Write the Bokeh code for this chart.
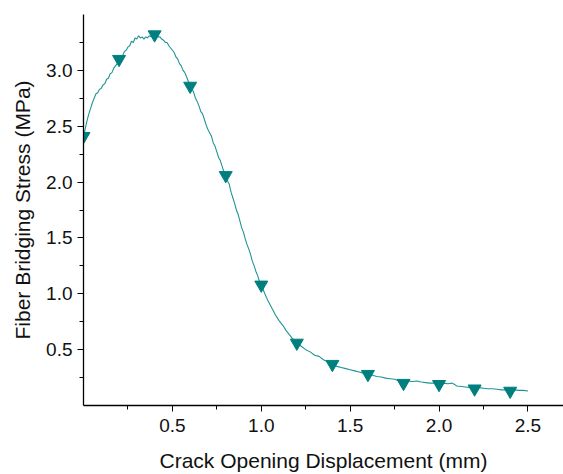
from bokeh.plotting import figure
from bokeh.models import FixedTicker, Range1d, CustomJSTickFormatter
from bokeh.embed import file_html
from bokeh.resources import INLINE

# curve (crack opening displacement mm, bridging stress MPa)
cod = [0.00, 0.01, 0.02, 0.03, 0.04, 0.05, 0.06, 0.07, 0.08, 0.09, 0.10, 0.11, 0.12, 0.13, 0.14,
       0.15, 0.16, 0.17, 0.18, 0.19, 0.20, 0.21, 0.22, 0.23, 0.24, 0.25, 0.26, 0.27, 0.28, 0.29,
       0.30, 0.31, 0.32, 0.33, 0.34, 0.35, 0.36, 0.37, 0.38, 0.39, 0.40, 0.41, 0.42, 0.43, 0.44,
       0.45, 0.46, 0.47, 0.48, 0.49, 0.50, 0.51, 0.52, 0.53, 0.54, 0.55, 0.56, 0.57, 0.58, 0.59,
       0.60, 0.61, 0.62, 0.63, 0.64, 0.65, 0.66, 0.67, 0.68, 0.69, 0.70, 0.71, 0.72, 0.73, 0.74,
       0.75, 0.76, 0.77, 0.78, 0.79, 0.80, 0.81, 0.82, 0.83, 0.84, 0.85, 0.86, 0.87, 0.88, 0.89,
       0.90, 0.91, 0.92, 0.93, 0.94, 0.95, 0.96, 0.97, 0.98, 0.99,
       1.00, 1.02, 1.04, 1.06, 1.08, 1.10, 1.12, 1.14, 1.16, 1.18, 1.20, 1.225, 1.25, 1.275, 1.30,
       1.325, 1.35, 1.375, 1.40, 1.425, 1.45, 1.475, 1.50, 1.525, 1.55, 1.575, 1.60, 1.625, 1.65,
       1.675, 1.70, 1.725, 1.75, 1.775, 1.80, 1.825, 1.85, 1.875, 1.90, 1.925, 1.95, 1.975, 2.00,
       2.025, 2.05, 2.075, 2.10, 2.125, 2.15, 2.175, 2.20, 2.225, 2.25, 2.275, 2.30, 2.325, 2.35,
       2.375, 2.40, 2.425, 2.45, 2.475, 2.50]
stress = [2.40, 2.48, 2.55, 2.61, 2.66, 2.71, 2.75, 2.79, 2.80, 2.83, 2.84, 2.87, 2.88, 2.92, 2.93,
          2.97, 2.98, 3.02, 3.04, 3.06, 3.09, 3.12, 3.13, 3.17, 3.18, 3.21, 3.22, 3.26, 3.25, 3.29,
          3.28, 3.31, 3.29, 3.30, 3.28, 3.30, 3.29, 3.31, 3.30, 3.32, 3.32, 3.31, 3.30, 3.30, 3.28,
          3.27, 3.25, 3.25, 3.22, 3.20, 3.18, 3.16, 3.12, 3.10, 3.06, 3.04, 3.00, 2.98, 2.94, 2.90,
          2.87, 2.84, 2.80, 2.75, 2.72, 2.68, 2.63, 2.61, 2.56, 2.51, 2.47, 2.44, 2.41, 2.35, 2.32,
          2.27, 2.22, 2.19, 2.14, 2.09, 2.06, 2.01, 1.98, 1.91, 1.86, 1.81, 1.75, 1.71, 1.65, 1.59,
          1.55, 1.49, 1.44, 1.40, 1.35, 1.29, 1.25, 1.20, 1.16, 1.11,
          1.08, 1.00, 0.93, 0.87, 0.81, 0.76, 0.72, 0.67, 0.63, 0.59, 0.56, 0.53, 0.50, 0.48, 0.45,
          0.44, 0.41, 0.39, 0.37, 0.35, 0.34, 0.33, 0.32, 0.31, 0.30, 0.29, 0.28, 0.27, 0.26,
          0.255, 0.245, 0.24, 0.235, 0.22, 0.21, 0.22, 0.215, 0.22, 0.21, 0.205, 0.20, 0.20, 0.19,
          0.20, 0.195, 0.20, 0.175, 0.17, 0.165, 0.16, 0.155, 0.16, 0.155, 0.15, 0.15, 0.145, 0.14,
          0.14, 0.135, 0.14, 0.135, 0.135, 0.13]

# markers every 0.2 mm
mark_x = [0.0, 0.2, 0.4, 0.6, 0.8, 1.0, 1.2, 1.4, 1.6, 1.8, 2.0, 2.2, 2.4]
mark_y = [2.41, 3.10, 3.32, 2.86, 2.06, 1.08, 0.56, 0.37, 0.28, 0.20, 0.19, 0.15, 0.13]

x_major = [0.5, 1.0, 1.5, 2.0, 2.5]
x_minor = [0.25, 0.75, 1.25, 1.75, 2.25]
y_major = [0.5, 1.0, 1.5, 2.0, 2.5, 3.0]
y_minor = [0.25, 0.75, 1.25, 1.75, 2.25, 2.75, 3.25]

p = figure(width=563, height=474, output_backend="svg", toolbar_location=None,
           x_range=Range1d(0, 2.7), y_range=Range1d(0, 3.5),
           min_border_left=83, min_border_right=0, min_border_top=14, min_border_bottom=66)

p.line(cod, stress, line_color="#1f9494", line_width=1.1)
p.scatter(mark_x, mark_y, marker="inverted_triangle", size=13,
          fill_color="#007f7f", line_color="#007f7f")

p.grid.visible = False
p.outline_line_color = None
p.background_fill_color = "white"

fmt = CustomJSTickFormatter(code="return tick.toFixed(1);")

for ax, maj, mnr, lab in [(p.xaxis[0], x_major, x_minor, "Crack Opening Displacement (mm)"),
                          (p.yaxis[0], y_major, y_minor, "Fiber Bridging Stress (MPa)")]:
    ax.ticker = FixedTicker(ticks=maj, minor_ticks=mnr)
    ax.formatter = fmt
    ax.axis_label = lab
    ax.axis_label_text_font = "Liberation Sans"
    ax.axis_label_text_font_style = "normal"
    ax.axis_label_text_font_size = "21px"
    ax.axis_label_text_color = "#111111"
    ax.major_label_text_font = "Liberation Sans"
    ax.major_label_text_font_size = "19px"
    ax.major_label_text_color = "#111111"
    ax.axis_line_color = "black"
    ax.axis_line_width = 1.3
    ax.major_tick_line_color = "black"
    ax.minor_tick_line_color = "black"
    ax.major_tick_in = 0
    ax.major_tick_out = 6
    ax.minor_tick_in = 0
    ax.minor_tick_out = 4
    ax.major_tick_line_width = 1
    ax.minor_tick_line_width = 1

p.xaxis[0].major_label_standoff = 7
p.xaxis[0].axis_label_standoff = 14
p.yaxis[0].major_label_standoff = 5
p.yaxis[0].axis_label_standoff = 9

open("out.html", "w").write(file_html(p, INLINE))
